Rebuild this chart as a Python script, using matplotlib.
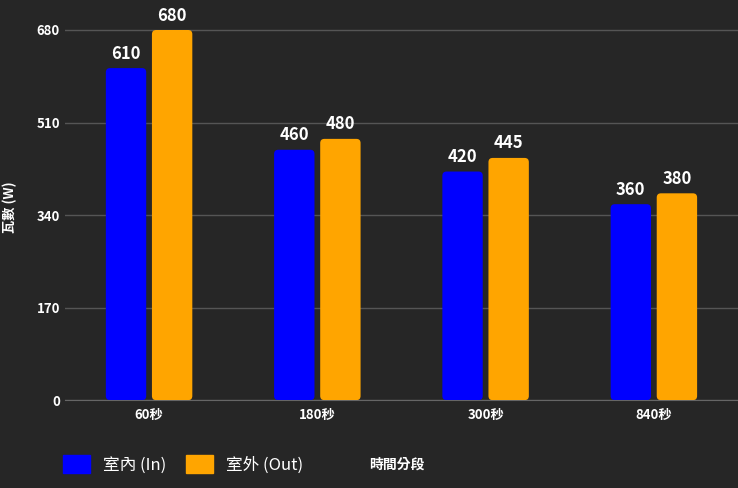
import matplotlib
matplotlib.use("Agg")
import matplotlib.pyplot as plt
from matplotlib.patches import FancyBboxPatch
import numpy as np

plt.rcParams['font.family'] = ['Noto Sans CJK TC', 'DejaVu Sans']

categories = ['60秒', '180秒', '300秒', '840秒']
indoor = [610, 460, 420, 360]
outdoor = [680, 480, 445, 380]
yticks = [0, 170, 340, 510, 680]

bg = '#262626'
fig = plt.figure(figsize=(7.38, 4.88), dpi=100, facecolor=bg)
ax = fig.add_axes([0.088, 0.18, 0.912, 0.792], facecolor=bg)
ax.set_xlim(-0.5, 3.5)
ax.set_ylim(0, 710)
x = np.arange(len(categories))
w = 0.24
off = 0.137
aspect = (710 / 386.5) * (673 / 4)
for vals, dx, col, lab in [(indoor, -off, '#0000FF', '室內 (In)'), (outdoor, off, '#FFA500', '室外 (Out)')]:
    bars = ax.bar(x + dx, vals, w, color=col, label=lab)
    for b, v in zip(bars, vals):
        b.set_visible(False)
        p = FancyBboxPatch((b.get_x(), 0), b.get_width(), v,
                           boxstyle="round,pad=0,rounding_size=0.025",
                           mutation_aspect=aspect, facecolor=col, edgecolor='none', zorder=3)
        ax.add_patch(p)
        ax.text(b.get_x() + b.get_width() / 2, v + 10, str(v), ha='center', va='bottom',
                color='white', fontsize=12, fontweight='bold', zorder=4)

ax.set_yticks(yticks)
ax.grid(axis='y', color='#555555', linewidth=1, zorder=0)
ax.set_xticks(x)
ax.set_xticklabels(categories)
for s in ax.spines.values():
    s.set_visible(False)
ax.spines['bottom'].set_visible(True)
ax.spines['bottom'].set_color('#666666')
ax.tick_params(colors='white', length=0, labelsize=9.5)
ax.tick_params(axis='x', pad=6)
for t in ax.get_xticklabels() + ax.get_yticklabels():
    t.set_fontweight('bold')
ax.set_ylabel('瓦數 (W)', color='white', fontsize=9.5, fontweight='bold', labelpad=14)

from matplotlib.patches import Patch
handles = [Patch(color='#0000FF'), Patch(color='#FFA500')]
leg = fig.legend(handles, ['室內 (In)', '室外 (Out)'], loc='center left',
                 bbox_to_anchor=(0.065, 0.048), ncol=2, frameon=False,
                 labelcolor='white', fontsize=12, handlelength=1.6, handleheight=1.3,
                 columnspacing=1.2)
fig.text(0.5, 0.048, '時間分段', color='white', fontsize=10, fontweight='bold', va='center')
fig.savefig('out.png', dpi=100, facecolor=bg)
